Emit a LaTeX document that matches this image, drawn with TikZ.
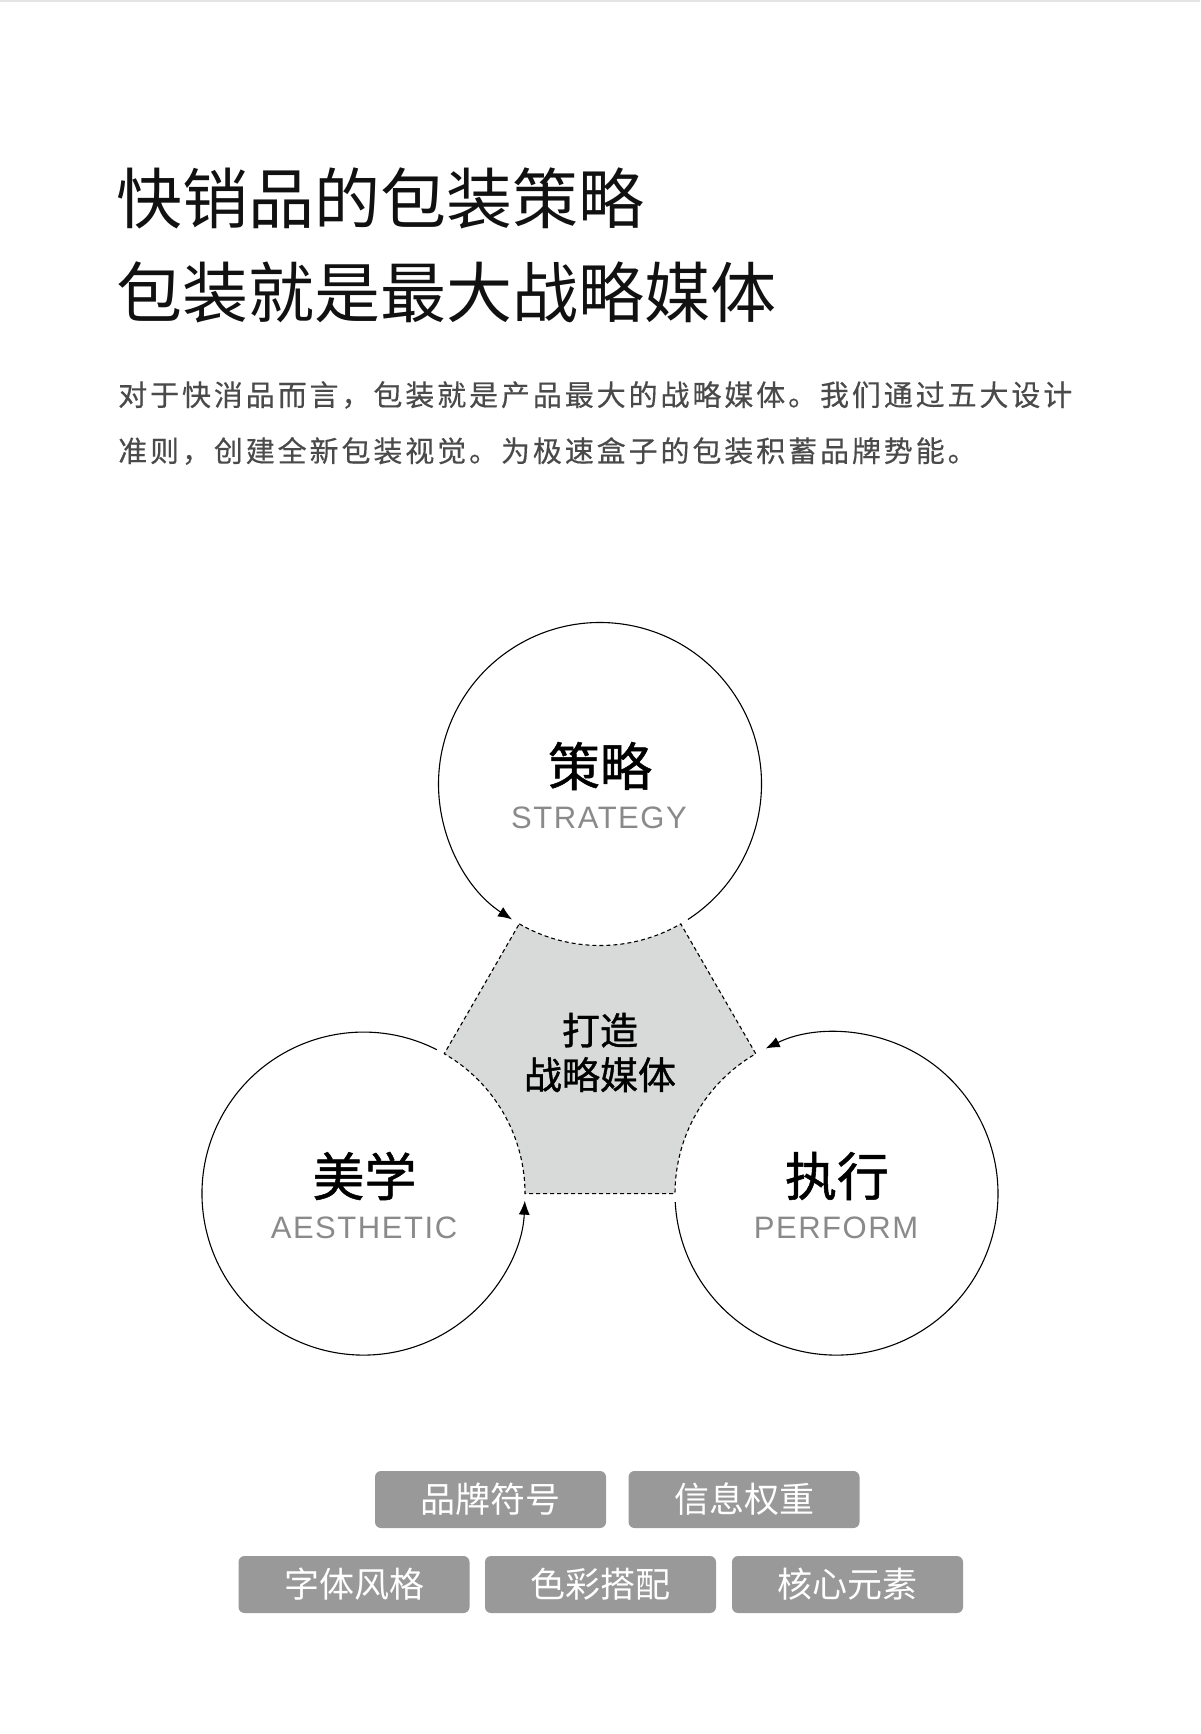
\documentclass[tikz,border=0pt]{standalone}
\usepackage{fontspec}
\setmainfont{Noto Sans CJK SC}
\newfontfamily\cjkmed[FakeBold=1]{Noto Sans CJK SC}
\newfontfamily\latinf[LetterSpace=5]{Liberation Sans}
\newfontfamily\parafont[LetterSpace=10,FakeBold=0.4]{Noto Sans CJK SC}
\usetikzlibrary{arrows.meta}
\definecolor{titlec}{HTML}{111111}
\definecolor{parac}{HTML}{4A4A4A}
\definecolor{engc}{HTML}{8A8A8A}
\definecolor{hubc}{HTML}{D8D9D9}
\definecolor{boxc}{HTML}{999999}
\definecolor{topline}{HTML}{E4E4E4}
\tikzset{
  ring/.style={circle, minimum size=323pt, inner sep=0pt},
  ringline/.style={line width=1.1pt, black, -{Latex[length=14pt,width=11pt]}},
  hubline/.style={line width=1.1pt, black, dash pattern=on 4pt off 3pt},
  cnlabel/.style={inner sep=0pt, font=\cjkmed\fontsize{52}{52}\selectfont, text=black},
  enlabel/.style={inner sep=0pt, font=\latinf\fontsize{31}{31}\selectfont, text=engc},
  tagbox/.style={rounded corners=6pt, fill=boxc, minimum width=231pt, minimum height=57pt, inner sep=0pt, text=white, font=\fontsize{35}{35}\selectfont},
}
\begin{document}
\begin{tikzpicture}[x=1pt,y=1pt]
\useasboundingbox (0,0) rectangle (1200,-1734);
\fill[white] (0,0) rectangle (1200,-1734);
\draw[topline, line width=1.5pt] (0,-1) -- (1200,-1);

% titles
\node[anchor=west, inner sep=0pt, text=titlec, font=\fontsize{66}{66}\selectfont] (t1) at (116,-198.5) {快销品的包装策略};
\node[anchor=west, inner sep=0pt, text=titlec, font=\fontsize{66}{66}\selectfont] (t2) at (116,-292.5) {包装就是最大战略媒体};
\node[anchor=west, inner sep=0pt, text=parac, font=\parafont\fontsize{29}{29}\selectfont] (p1) at (118,-395) {对于快消品而言，包装就是产品最大的战略媒体。我们通过五大设计};
\node[anchor=west, inner sep=0pt, text=parac, font=\parafont\fontsize{29}{29}\selectfont] (p2) at (118,-451) {准则，创建全新包装视觉。为极速盒子的包装积蓄品牌势能。};

% circles
\node[ring] (T) at (600,-784) {};
\node[ring] (L) at (363.5,-1193.6) {};
\node[ring] (R) at (836.5,-1193.6) {};

% hub region
\path[fill=hubc] ([shift={(240:161.5)}]T.center) arc[start angle=240, end angle=300, radius=161.5]
  -- ([shift={(120:161.5)}]R.center) arc[start angle=120, end angle=180, radius=161.5]
  -- ([shift={(0:161.5)}]L.center) arc[start angle=0, end angle=60, radius=161.5] -- cycle;
\draw[hubline] ([shift={(240:161.5)}]T.center) arc[start angle=240, end angle=300, radius=161.5]
  -- ([shift={(120:161.5)}]R.center) arc[start angle=120, end angle=180, radius=161.5]
  -- ([shift={(0:161.5)}]L.center) arc[start angle=0, end angle=60, radius=161.5] -- cycle;

% circle arcs with arrows
\draw[ringline] ([shift={(303:161.5)}]T.center) arc[start angle=303, end angle=597, radius=161.5];
\draw[ringline] ([shift={(63:161.5)}]L.center) arc[start angle=63, end angle=357.5, radius=161.5];
\draw[ringline] ([shift={(183:161.5)}]R.center) arc[start angle=183, end angle=476, radius=161.5];

% labels
\node[cnlabel] (Tc) at (600,-766) {策略};
\node[enlabel] (Te) at (599,-818) {STRATEGY};
\node[cnlabel] (Lc) at (364.5,-1176) {美学};
\node[enlabel] (Le) at (364,-1228) {AESTHETIC};
\node[cnlabel] (Rc) at (837,-1176) {执行};
\node[enlabel] (Re) at (836,-1228) {PERFORM};

\node[align=center, inner sep=0pt, font=\cjkmed\fontsize{38}{44.5}\selectfont] (hub) at (600,-1052.5) {打造\\战略媒体};

% tag boxes
\node[tagbox] (b1) at (490.5,-1499.5) {品牌符号};
\node[tagbox] (b2) at (744,-1499.5) {信息权重};
\node[tagbox] (b3) at (354,-1584.5) {字体风格};
\node[tagbox] (b4) at (600.5,-1584.5) {色彩搭配};
\node[tagbox] (b5) at (847.5,-1584.5) {核心元素};
\end{tikzpicture}
\end{document}
